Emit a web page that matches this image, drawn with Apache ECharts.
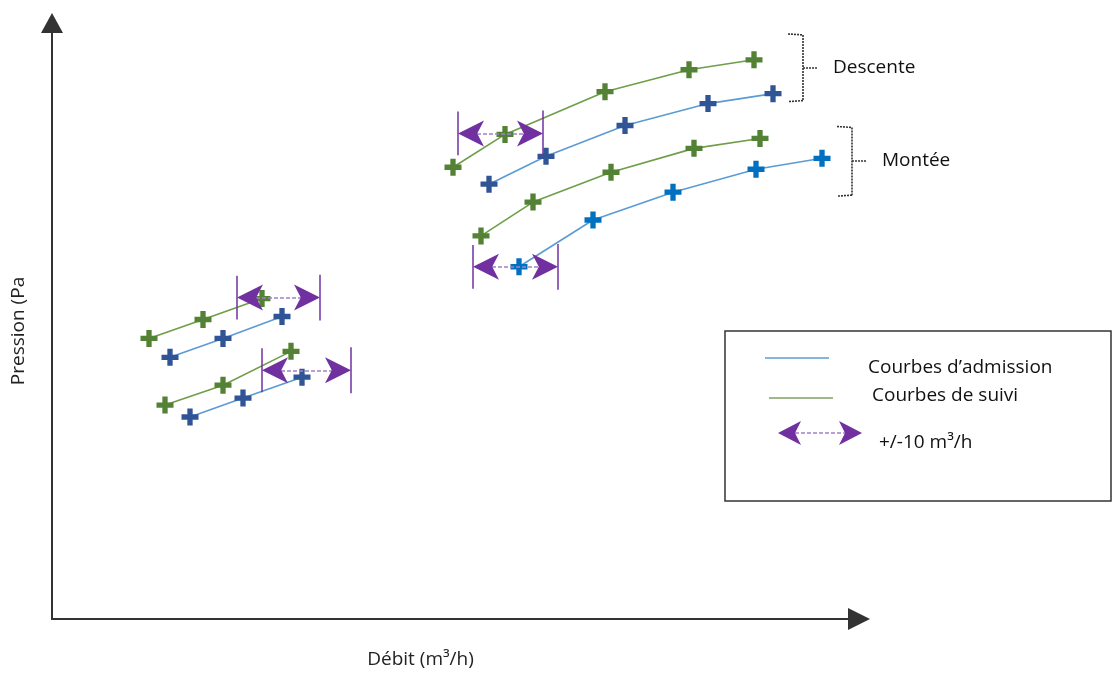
<!DOCTYPE html>
<html>
<head>
<meta charset="utf-8">
<script src="https://cdn.jsdelivr.net/npm/echarts@6/dist/echarts.min.js"></script>
<style>
html, body { margin: 0; padding: 0; background: #fff; }
#chart { width: 1112px; height: 674px; }
</style>
</head>
<body>
<div id="chart"></div>
<script>
// schéma sans graduations : débit et pression en unités arbitraires
var descenteSuivi = [[401, 454], [453, 487], [553, 530], [637, 552], [702, 562]];
var descenteAdmission = [[437, 437], [494, 465], [573, 496], [656, 518], [721, 528]];
var monteeSuivi = [[429, 385], [481, 419], [559, 449], [642, 473], [708, 483]];
var monteeAdmission = [[467, 354], [541, 401], [621, 429], [704, 452], [770, 463]];
var basSuivi1 = [[97, 282], [151, 301], [210, 322]];
var basAdmission1 = [[118, 263], [171, 282], [230, 304]];
var basSuivi2 = [[113, 215], [171, 235], [239, 269]];
var basAdmission2 = [[138, 203], [191, 222], [250, 243]];

// plages +/-10 m3/h : [débit gauche, débit droit, pression]
var tolerances = [[185, 268, 323], [210, 299, 250], [406, 491, 488], [421, 506, 354]];

// accolades : [débit, pression haute, pression basse, libellé]
var groupes = [[751, 588, 521, 'Descente'], [800, 495, 426, 'Montée']];

var xMax = 807;
var yMax = 599;

var font = '"Open Sans", sans-serif';
var plus = 'path://M5.5,0H10.5V5.5H16V10.5H10.5V16H5.5V10.5H0V5.5H5.5Z';
var pointe = 'path://M12,0L24,23L12,17L0,23Z';

var vertLigne = '#6E9E47', vertPoint = '#548235';
var bleuLigne = '#5B9BD5', bleuFonce = '#2F5597', bleuVif = '#0070C0';
var violet = '#7030A0';

function courbe(name, data, lineColor, markColor) {
    return {
        name: name,
        type: 'line',
        data: data,
        symbol: plus,
        symbolSize: 17,
        lineStyle: { color: lineColor, width: 1.6 },
        itemStyle: { color: markColor },
        z: 3
    };
}

var barres = [], fleches = [];
tolerances.forEach(function (t) {
    barres.push({ coords: [[t[0], t[2] - 22], [t[0], t[2] + 22]] });
    barres.push({ coords: [[t[1], t[2] - 23], [t[1], t[2] + 23]] });
    fleches.push({ coords: [[t[0] + 13, t[2]], [t[1] - 13, t[2]]] });
});

var accolades = [], traits = [];
groupes.forEach(function (g) {
    var mid = (g[1] + g[2]) / 2;
    accolades.push({ coords: [[g[0] - 15, g[1]], [g[0], g[1] - 1]] });
    accolades.push({ coords: [[g[0], g[1] - 1], [g[0], g[2]]] });
    accolades.push({ coords: [[g[0], g[2]], [g[0] - 15, g[2] - 1]] });
    traits.push({ name: g[3], coords: [[g[0], mid], [g[0] + 15, mid]] });
});

var myChart = echarts.init(document.getElementById('chart'));
var option = {
    animation: false,
    grid: { left: 52, right: 253, top: 23, bottom: 52 },
    xAxis: {
        type: 'value',
        min: 0,
        max: xMax,
        name: 'Débit (m³/h)',
        nameLocation: 'middle',
        nameGap: 31,
        nameTextStyle: { fontFamily: font, fontSize: 19, color: '#222', padding: [0, 70, 0, 0] },
        axisLine: { lineStyle: { color: '#333', width: 2 }, symbol: ['none', 'triangle'], symbolSize: [22, 22] },
        axisTick: { show: false },
        axisLabel: { show: false },
        splitLine: { show: false }
    },
    yAxis: {
        type: 'value',
        min: 0,
        max: yMax,
        name: 'Pression (Pa',
        nameLocation: 'middle',
        nameGap: 24,
        nameTextStyle: { fontFamily: font, fontSize: 19, color: '#222', padding: [0, 20, 0, 0] },
        axisLine: { show: true, lineStyle: { color: '#333', width: 2 }, symbol: ['none', 'triangle'], symbolSize: [22, 20] },
        axisTick: { show: false },
        axisLabel: { show: false },
        splitLine: { show: false }
    },
    series: [
        courbe('Descente suivi', descenteSuivi, vertLigne, vertPoint),
        courbe('Descente admission', descenteAdmission, bleuLigne, bleuFonce),
        courbe('Montée suivi', monteeSuivi, vertLigne, vertPoint),
        courbe('Montée admission', monteeAdmission, bleuLigne, bleuVif),
        courbe('Bas suivi 1', basSuivi1, vertLigne, vertPoint),
        courbe('Bas admission 1', basAdmission1, bleuLigne, bleuFonce),
        courbe('Bas suivi 2', basSuivi2, vertLigne, vertPoint),
        courbe('Bas admission 2', basAdmission2, bleuLigne, bleuFonce),
        {
            type: 'lines',
            coordinateSystem: 'cartesian2d',
            clip: false,
            data: barres,
            lineStyle: { color: violet, width: 1.5, opacity: 1 },
            z: 4
        },
        {
            type: 'lines',
            coordinateSystem: 'cartesian2d',
            clip: false,
            data: fleches,
            lineStyle: { color: '#A47FC9', width: 1.5, type: [4, 2], opacity: 1 },
            z: 4
        },
        {
            type: 'lines',
            coordinateSystem: 'cartesian2d',
            clip: false,
            data: fleches,
            symbol: [pointe, pointe],
            symbolSize: 26,
            lineStyle: { color: violet, width: 0, opacity: 1 },
            z: 5
        },
        {
            type: 'lines',
            coordinateSystem: 'cartesian2d',
            clip: false,
            data: accolades,
            lineStyle: { color: '#333', width: 1.6, type: [2, 1], opacity: 1 },
            z: 4
        },
        {
            type: 'lines',
            coordinateSystem: 'cartesian2d',
            clip: false,
            data: traits,
            lineStyle: { color: '#333', width: 1.6, type: [2, 1], opacity: 1 },
            label: {
                show: true,
                position: 'end',
                distance: 15,
                formatter: '{b}',
                fontFamily: font,
                fontSize: 19,
                color: '#111'
            },
            z: 4
        }
    ],
    graphic: [
        { type: 'rect', shape: { x: 725, y: 331, width: 386, height: 170 }, style: { fill: '#fff', stroke: '#333', lineWidth: 1.5 }, z: 1 },
        { type: 'line', shape: { x1: 765, y1: 358, x2: 829, y2: 358 }, style: { stroke: bleuLigne, lineWidth: 1.5 }, z: 2 },
        { type: 'text', x: 868, y: 368, style: { text: 'Courbes d’admission', fontFamily: font, fontSize: 19, fill: '#111', verticalAlign: 'middle' }, z: 2 },
        { type: 'line', shape: { x1: 769, y1: 398, x2: 833, y2: 398 }, style: { stroke: '#7FA05F', lineWidth: 1.5 }, z: 2 },
        { type: 'text', x: 872, y: 396, style: { text: 'Courbes de suivi', fontFamily: font, fontSize: 19, fill: '#111', verticalAlign: 'middle' }, z: 2 },
        { type: 'line', shape: { x1: 795, y1: 433, x2: 845, y2: 433 }, style: { stroke: '#A47FC9', lineWidth: 1.5, lineDash: [4, 2] }, z: 2 },
        { type: 'polygon', shape: { points: [[778, 433], [801, 421], [795, 433], [801, 445]] }, style: { fill: violet }, z: 2 },
        { type: 'polygon', shape: { points: [[862, 433], [839, 421], [845, 433], [839, 445]] }, style: { fill: violet }, z: 2 },
        { type: 'text', x: 879, y: 443, style: { text: '+/-10 m³/h', fontFamily: font, fontSize: 19, fill: '#111', verticalAlign: 'middle' }, z: 2 }
    ]
};
myChart.setOption(option);
</script>
</body>
</html>
